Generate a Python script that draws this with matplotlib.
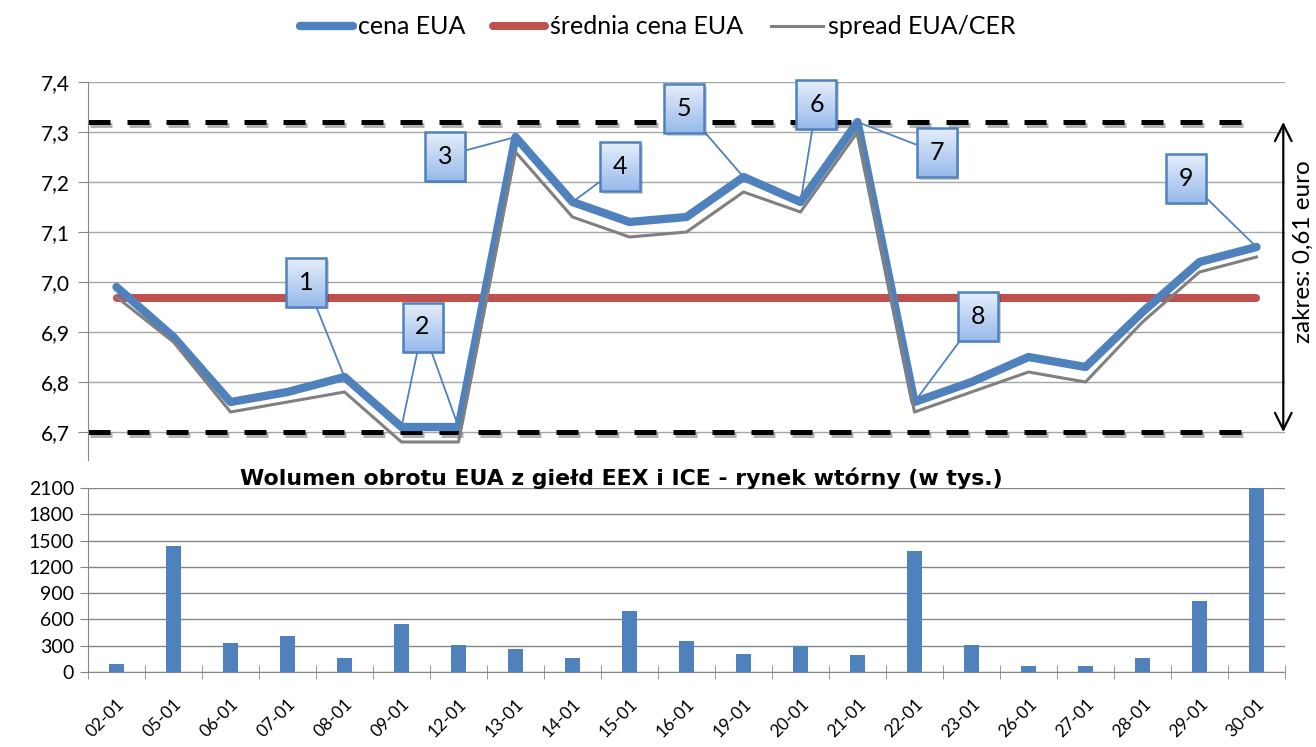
import matplotlib.pyplot as plt
import matplotlib.patheffects as pe
from matplotlib.patches import Rectangle
from matplotlib.colors import LinearSegmentedColormap
import numpy as np

plt.rcParams['font.family'] = ['Lato', 'DejaVu Sans']

dates = ['02-01', '05-01', '06-01', '07-01', '08-01', '09-01', '12-01', '13-01', '14-01', '15-01', '16-01',
         '19-01', '20-01', '21-01', '22-01', '23-01', '26-01', '27-01', '28-01', '29-01', '30-01']
cena = [6.99, 6.89, 6.76, 6.78, 6.81, 6.71, 6.71, 7.29, 7.16, 7.12, 7.13,
        7.21, 7.16, 7.32, 6.76, 6.80, 6.85, 6.83, 6.94, 7.04, 7.07]
spread = [6.97, 6.88, 6.74, 6.76, 6.78, 6.68, 6.68, 7.26, 7.13, 7.09, 7.10,
          7.18, 7.14, 7.30, 6.74, 6.78, 6.82, 6.80, 6.92, 7.02, 7.05]
wolumen = [88, 1440, 328, 408, 164, 550, 305, 263, 164, 691, 351,
           210, 298, 191, 1382, 305, 65, 65, 164, 813, 2100]

# callouts: label, index of point(s) pointed at
callout_labels = ['1', '2', '3', '4', '5', '6', '7', '8', '9']
callout_targets = [[4], [5, 6], [7], [8], [11], [12], [13], [14], [20]]
# box centres (x in category units, y in price units) - layout only
callout_pos = [(3.33, 7.00), (5.37, 6.91), (5.76, 7.252), (8.84, 7.231), (9.96, 7.347),
               (12.28, 7.356), (14.39, 7.259), (15.12, 6.932), (18.76, 7.208)]

BLUE = '#4F81BD'
RED = '#C0504D'
GRAY = '#808080'
GRID = '#A6A6A6'

x = np.arange(len(dates))
cena = np.array(cena)
srednia = np.full(len(x), cena.mean())
hi, lo = cena.max(), cena.min()
lo_line = np.floor(lo * 10) / 10

W, H = 1316, 747
fig = plt.figure(figsize=(W / 100, H / 100), dpi=100)

# ---- top: prices ----
ax_w, ax_h = 1285 - 88, 460 - 82
ylo, yhi = 6.644, 7.4
ax = fig.add_axes([88 / W, (H - 460) / H, ax_w / W, ax_h / H])
yt = np.round(np.arange(6.7, 7.41, 0.1), 1)
ax.set_yticks(yt)
ax.set_yticklabels([f'{v:.1f}'.replace('.', ',') for v in yt], fontsize=15)
ax.set_xticks([])
ax.grid(axis='y', color=GRID, lw=1)
ax.set_axisbelow(True)
for s in ['top', 'right', 'bottom']:
    ax.spines[s].set_visible(False)
ax.spines['left'].set_color('#868686')
ax.tick_params(axis='y', length=7, color='#868686', pad=6)

shadow = [pe.SimpleLineShadow(offset=(1.5, -2.5), alpha=0.3, rho=0.5), pe.Normal()]
for yv in [hi, lo_line]:
    ax.plot([-0.5, 20.02], [yv, yv], color='black', lw=3.6, ls=(0, (4.4, 3.4)),
            dash_capstyle='butt', path_effects=shadow, zorder=2)

ax.plot(x, srednia, color=RED, lw=5.8, solid_capstyle='round', zorder=3, label='średnia cena EUA')
ax.plot(x, cena, color=BLUE, lw=6, solid_joinstyle='round', solid_capstyle='round', zorder=4, label='cena EUA')
ax.plot(x, spread, color=GRAY, lw=2.2, zorder=4.5, label='spread EUA/CER')

# callout boxes with gradient fill
grad = LinearSegmentedColormap.from_list('g', ['#E6EEFB', '#98BAEB'])
bw = 40 / (ax_w / 21)
bh = 49 / (ax_h / (yhi - ylo))
for lab, (cx, cy), tg in zip(callout_labels, callout_pos, callout_targets):
    x0, y0 = cx - bw / 2, cy - bh / 2
    ax.add_patch(Rectangle((x0 + 2.5 / 57, y0 - 2.5 / 500), bw, bh, fc='black', alpha=0.18, lw=0,
                           zorder=6, clip_on=False))
    ax.imshow(np.linspace(0, 1, 60)[:, None], cmap=grad, extent=[x0, x0 + bw, y0, y0 + bh],
              aspect='auto', origin='upper', zorder=6.2, clip_on=False)
    box = Rectangle((x0, y0), bw, bh, fc='none', ec=BLUE, lw=1.8, zorder=6.4, clip_on=False)
    ax.add_patch(box)
    ax.text(cx, cy, lab, ha='center', va='center', fontsize=18, zorder=6.6)
    for t in tg:
        ax.annotate('', xy=(x[t], cena[t]), xytext=(cx, cy),
                    arrowprops=dict(arrowstyle='-', color=BLUE, lw=1.3, shrinkA=0, shrinkB=0, patchA=box),
                    zorder=5)

ax.set_xlim(-0.5, 20.5)
ax.set_ylim(ylo, yhi)

ax.annotate('', xy=(20.47, lo_line), xytext=(20.47, hi), annotation_clip=False,
            arrowprops=dict(arrowstyle='<->', lw=1.6, color='black', mutation_scale=30,
                            shrinkA=0, shrinkB=0))
ax.text(20.82, (hi + lo_line) / 2 + 0.05, f'zakres: {hi - lo:.2f} euro'.replace('.', ','), rotation=90,
        ha='center', va='center', fontsize=17.5, clip_on=False)

h, l = ax.get_legend_handles_labels()
order = [1, 0, 2]
fig.legend([h[i] for i in order], [l[i] for i in order], loc='center', bbox_to_anchor=(0.5, 1 - 27 / H),
           ncol=3, frameon=False, fontsize=18, handlelength=2.1, handletextpad=0.2, columnspacing=1.1)

# ---- bottom: volume ----
ax2 = fig.add_axes([88 / W, (H - 672) / H, (1285 - 88) / W, (672 - 488) / H])
ax2.bar(x, wolumen, width=0.27, color=BLUE, zorder=3)
ax2.set_xlim(-0.5, 20.5)
ax2.set_ylim(0, 2100)
ax2.set_yticks(np.arange(0, 2101, 300))
ax2.tick_params(axis='y', labelsize=14, length=6, color='#868686', pad=4)
ax2.set_xticks(x)
ax2.set_xticklabels(dates, rotation=45, ha='right', rotation_mode='anchor', fontsize=12.5)
ax2.tick_params(axis='x', which='major', length=0, pad=17)
ax2.set_xticks(np.arange(-0.5, 21, 1), minor=True)
ax2.tick_params(axis='x', which='minor', direction='inout', length=10, color='#868686')
ax2.grid(axis='y', color='#868686', lw=1)
ax2.set_axisbelow(True)
for s in ['top', 'right']:
    ax2.spines[s].set_visible(False)
for s in ['left', 'bottom']:
    ax2.spines[s].set_color('#868686')

fig.text(621 / W, 1 - 478 / H, 'Wolumen obrotu EUA z giełd EEX i ICE - rynek wtórny (w tys.)',
         ha='center', va='center', fontsize=15.8, fontweight='bold', family=['DejaVu Sans'])

fig.savefig('out.png', dpi=100)
